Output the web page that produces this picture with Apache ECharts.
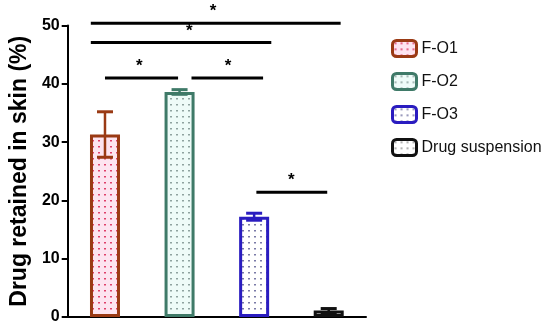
<!DOCTYPE html>
<html><head><meta charset="utf-8">
<script src="https://cdn.jsdelivr.net/npm/echarts@6/dist/echarts.min.js"></script>
<style>html,body{margin:0;padding:0;background:#fff}#c{width:550px;height:335px}</style>
</head><body><div id="c"></div>
<script>
var categories = ['F-O1', 'F-O2', 'F-O3', 'Drug suspension'];
var means = [31.3, 38.6, 17.2, 1.1];
var errors = [3.9, 0.4, 0.6, 0.35];
var yTicks = [0, 10, 20, 30, 40, 50];
// significance brackets: [x start, x end, y level, asterisk x] in category units
var sigX1 = [-0.19, -0.19, 0.0, 1.16, 2.03];
var sigX2 = [3.16, 2.23, 0.98, 2.12, 2.98];
var sigY = [50.4, 47.1, 41.0, 41.0, 21.4];
var sigAstX = [1.45, 1.13, 0.46, 1.65, 2.5];
var sigLabel = ['*', '*', '*', '*', '*'];

var borderColors = ['#9a3a14', '#3f7a68', '#2a1cc0', '#111111'];
var fillColors = ['#fde4f0', '#eefbf8', '#ffffff', '#ffffff'];
var dotColors = ['#e0406a', '#8fa3a0', '#7b7ba8', '#9a9a9a'];

function dots(bg, dot) {
  var c = document.createElement('canvas');
  c.width = 6; c.height = 6;
  var g = c.getContext('2d');
  g.fillStyle = bg; g.fillRect(0, 0, 6, 6);
  g.fillStyle = dot; g.fillRect(2, 2, 2, 1.5);
  return c;
}

var chart = echarts.init(document.getElementById('c'), null, {renderer: 'canvas'});

var series = categories.map(function (name, i) {
  return {
    name: name,
    type: 'bar',
    xAxisIndex: 0,
    yAxisIndex: 0,
    barWidth: 30,
    barGap: '-100%',
    data: categories.map(function (_, j) { return j === i ? means[i] : '-'; }),
    itemStyle: {
      color: {image: dots(fillColors[i], dotColors[i]), repeat: 'repeat'},
      borderColor: borderColors[i],
      borderWidth: 3
    },
    z: 2
  };
});

series.push({
  type: 'custom',
  xAxisIndex: 1,
  yAxisIndex: 0,
  z: 5,
  silent: true,
  data: means.map(function (m, i) { return [i, m, errors[i]]; }),
  renderItem: function (params, api) {
    var i = api.value(0), m = api.value(1), e = api.value(2);
    var top = api.coord([i, m + e]);
    var bot = api.coord([i, m - e]);
    var col = borderColors[i];
    var hw = 8;
    return {
      type: 'group',
      children: [
        {type: 'line', shape: {x1: top[0], y1: top[1], x2: bot[0], y2: bot[1]}, style: {stroke: col, lineWidth: 2.5}},
        {type: 'line', shape: {x1: top[0] - hw, y1: top[1], x2: top[0] + hw, y2: top[1]}, style: {stroke: col, lineWidth: 3}},
        {type: 'line', shape: {x1: bot[0] - hw, y1: bot[1], x2: bot[0] + hw, y2: bot[1]}, style: {stroke: col, lineWidth: 3}}
      ]
    };
  }
});

series.push({
  type: 'custom',
  xAxisIndex: 1,
  yAxisIndex: 0,
  z: 6,
  silent: true,
  clip: false,
  data: sigY.map(function (y, k) { return [sigX1[k], sigX2[k], y, sigAstX[k]]; }),
  renderItem: function (params, api) {
    var k = params.dataIndex;
    var p1 = api.coord([api.value(0), api.value(2)]);
    var p2 = api.coord([api.value(1), api.value(2)]);
    var pa = api.coord([api.value(3), api.value(2)]);
    return {
      type: 'group',
      children: [
        {type: 'line', shape: {x1: p1[0], y1: p1[1], x2: p2[0], y2: p2[1]}, style: {stroke: '#000', lineWidth: 3}},
        {type: 'text', x: pa[0], y: p1[1] - 3, style: {text: sigLabel[k], fill: '#000', font: 'bold 17px "Liberation Sans", Arial, sans-serif', align: 'center', verticalAlign: 'bottom'}}
      ]
    };
  }
});

chart.setOption({
  animation: false,
  backgroundColor: '#fff',
  grid: {left: 66, right: 184, top: 25.5, bottom: 18, containLabel: false},
  legend: {
    orient: 'vertical',
    left: 386,
    top: 34,
    itemWidth: 24,
    itemHeight: 16,
    itemGap: 14,
    data: categories,
    itemStyle: {borderWidth: 3},
    textStyle: {fontSize: 16, color: '#111', fontFamily: '"Liberation Sans", Arial, sans-serif'}
  },
  xAxis: [{
    type: 'category',
    data: categories,
    axisLine: {lineStyle: {color: '#000', width: 2}},
    axisTick: {alignWithLabel: true, length: 8, lineStyle: {color: '#000', width: 2}},
    axisLabel: {show: false},
    splitLine: {show: false}
  }, {
    type: 'value',
    min: -0.5,
    max: 3.5,
    show: false
  }],
  yAxis: [{
    type: 'value',
    min: yTicks[0],
    max: yTicks[yTicks.length - 1],
    interval: 10,
    name: 'Drug retained in skin (%)',
    nameLocation: 'middle',
    nameGap: 36,
    nameTextStyle: {fontSize: 23, fontWeight: 'bold', color: '#000', fontFamily: '"Liberation Sans", Arial, sans-serif'},
    axisLine: {show: true, onZero: false, lineStyle: {color: '#000', width: 2}},
    axisTick: {show: true, length: 6, lineStyle: {color: '#000', width: 2}},
    axisLabel: {margin: 8, fontSize: 16, fontWeight: 'bold', color: '#000', fontFamily: '"Liberation Sans Narrow", "Liberation Sans", Arial, sans-serif'},
    splitLine: {show: false}
  }],
  series: series
});
</script></body></html>
